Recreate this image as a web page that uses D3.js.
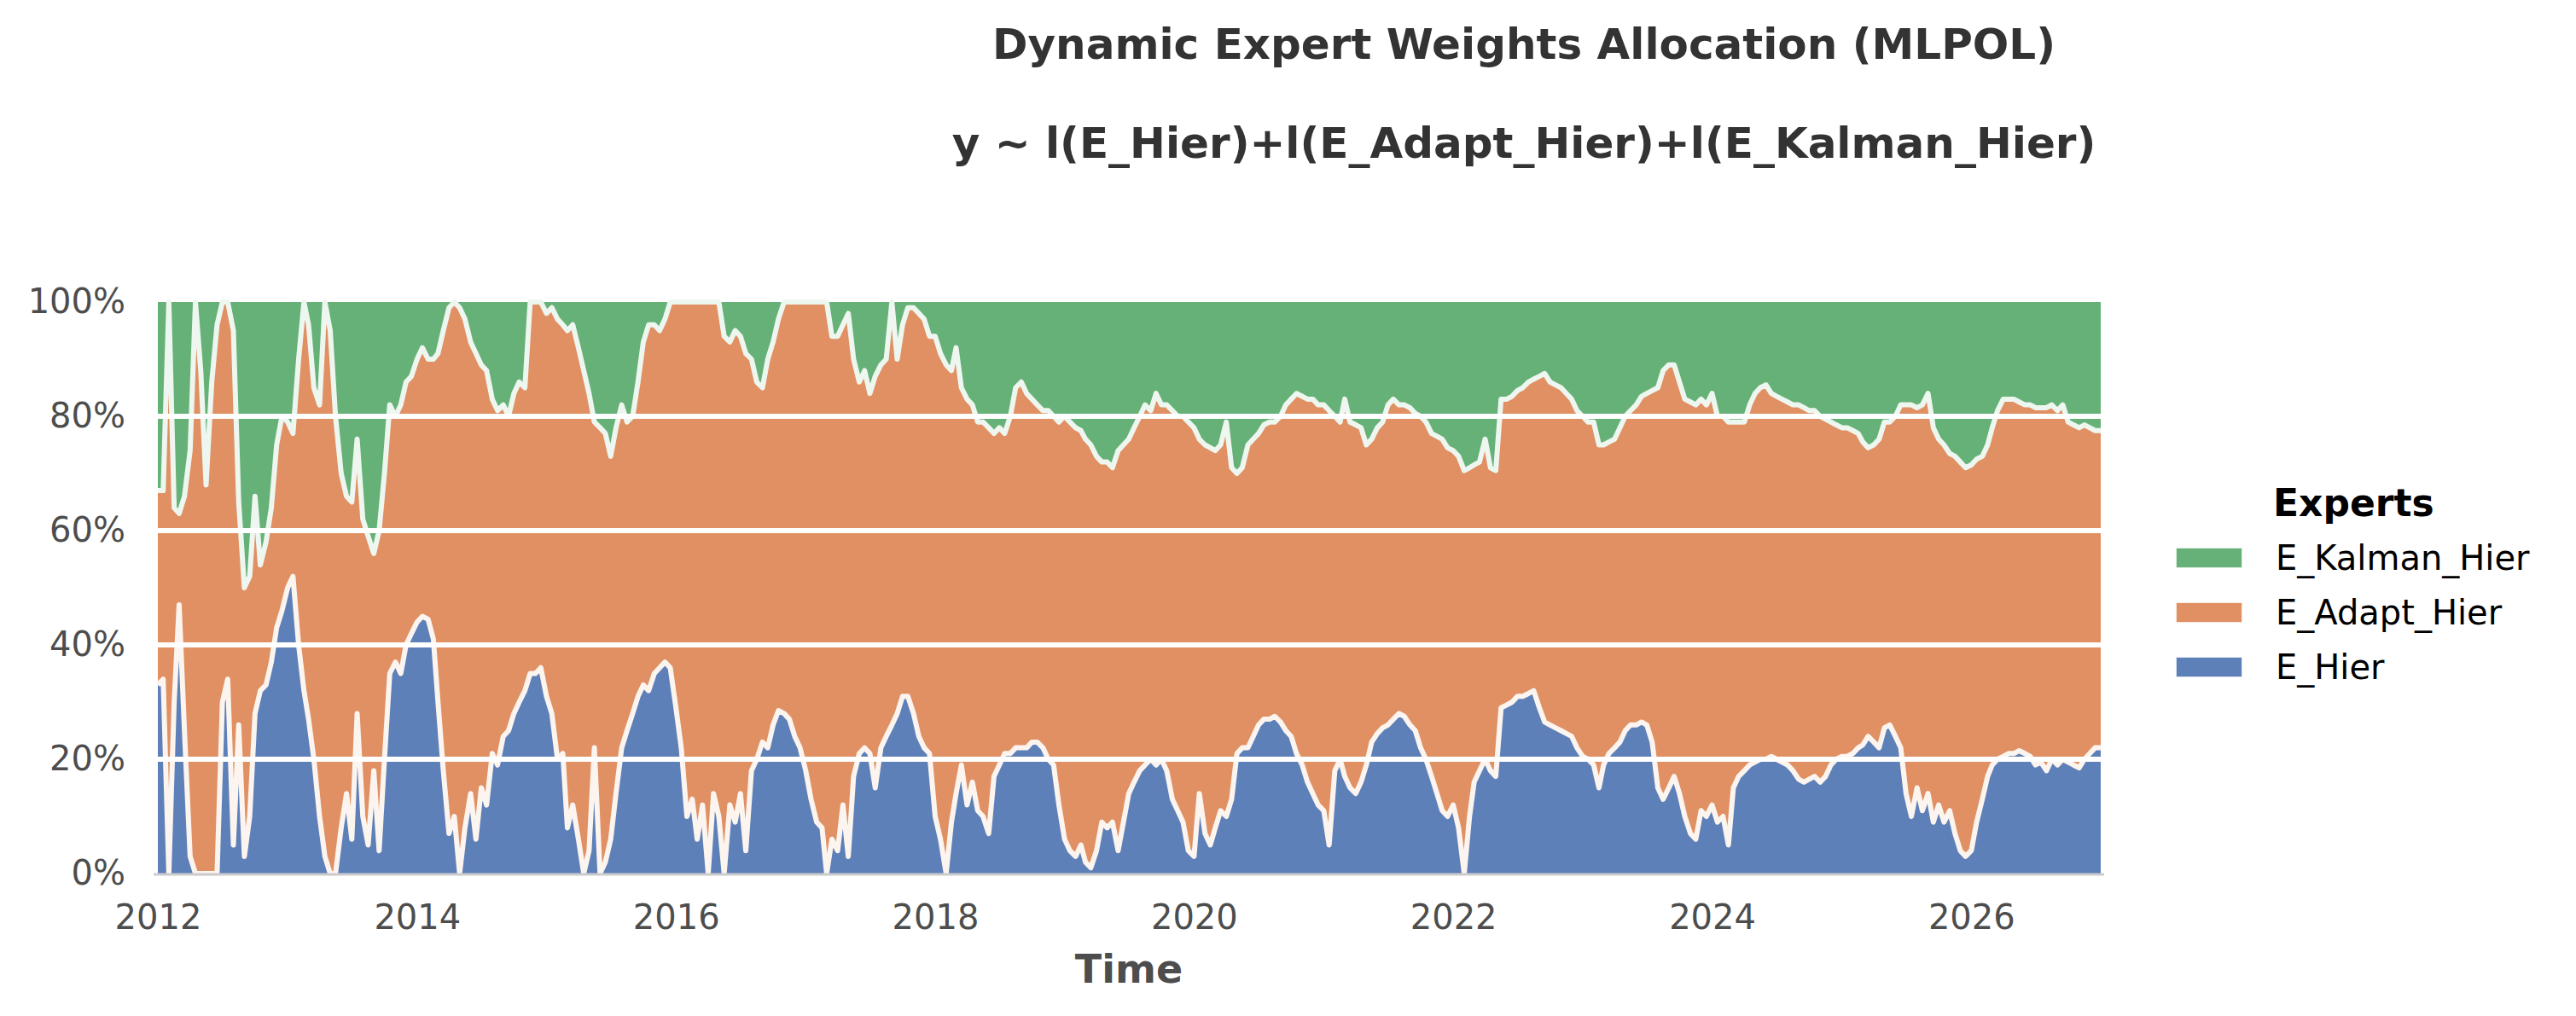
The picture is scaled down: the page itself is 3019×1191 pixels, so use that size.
<!DOCTYPE html>
<html>
<head>
<meta charset="utf-8">
<script src="https://cdn.jsdelivr.net/npm/d3@7"></script>
<style>
  body { margin: 0; background: #fff; }
  svg { display: block; font-family: "DejaVu Sans", sans-serif; }
</style>
</head>
<body>
<div id="chart"></div>
<script>
// expert weights (%), two readings per month (1st, 16th), Jan 2012 .. Jan 2027
const hierW = [
  33, 34, 0, 30, 47, 25, 3, 0, 0, 0, 0, 0, 30, 34, 5, 26, 3, 10, 28, 32, 33, 37, 43, 46, // 2012
  50, 52, 40, 32, 27, 20, 10, 3, 0, 0, 8, 14, 6, 28, 10, 5, 18, 4, 20, 35, 37, 35, 40, 42, // 2013
  44, 45, 44.5, 41, 30, 18, 7, 10, 0, 8, 14, 6, 15, 12, 21, 19, 24, 25, 28, 30, 32, 35, 35, 36, // 2014
  31, 28, 20, 21, 8, 12, 6, 0, 4, 22, 0, 2, 6, 14, 22, 25, 28, 31, 33, 32, 35, 36, 37, 36, // 2015
  29, 22, 10, 13, 6, 12, 0, 14, 10, 0, 12, 9, 14, 4, 18, 20, 23, 22, 26, 28.5, 28, 27, 24, 22, // 2016
  18, 13, 9, 8, 0, 6, 4, 12, 3, 17, 21, 22, 21, 15, 22, 24, 26, 28, 31, 31, 28, 24, 22, 21, // 2017
  10, 6, 0, 9, 14, 19, 12, 16, 11, 10, 7, 17, 19, 21, 21, 22, 22, 22, 23, 23, 22, 20, 19, 12, // 2018
  6, 4, 3, 5, 2, 1, 4, 9, 8, 9, 4, 9, 14, 16, 18, 19, 20, 19, 20, 18, 13, 11, 9, 4, // 2019
  3, 14, 7, 5, 8, 11, 10, 13, 21, 22, 22, 24, 26, 27, 27, 27.5, 26.5, 25, 24, 21, 19, 16, 14, 12, // 2020
  11, 5, 18, 20, 17, 15, 14, 16, 19, 23, 24.5, 25.5, 26, 27, 28, 27.5, 26, 25, 22, 20, 17, 14, 11, 10, // 2021
  12, 8, 0, 10, 16, 18, 20, 18, 17, 29, 29.5, 30, 31, 31, 31.5, 32, 29, 26.5, 26, 25.5, 25, 24.5, 24, 22, // 2022
  20.5, 20, 19, 15, 19, 21, 22, 23, 25, 26, 26, 26.5, 26, 23, 15, 13, 15, 17, 14, 10, 7, 6, 11, 10, // 2023
  12, 9, 10, 5, 15, 17, 18, 19, 19.5, 20, 20, 20.5, 20, 19.5, 19, 18, 16.5, 16, 16.5, 17, 16, 17, 19, 20, // 2024
  20.5, 20.5, 21, 22, 22.5, 24, 23, 22, 25.5, 26, 24, 22, 14, 10, 15, 11, 14, 9, 12, 9, 11, 7, 4, 3, // 2025
  4, 9, 13, 17, 19, 20, 20.5, 21, 21, 21.5, 21, 20.5, 19, 19.5, 18, 20, 19, 20, 19.5, 19, 18.5, 20, 21, 22, 22 // 2026 + end
];

const adaptW = [
  34, 33, 100, 34, 16, 41, 71, 100, 88, 68, 86, 96, 70, 66, 90, 39, 47, 42, 38, 22, 25, 27, 32, 34, // 2012
  29, 25, 50, 68, 69, 65, 72, 97, 95, 80, 62, 52, 59, 48, 52, 54, 38, 56, 50, 47, 43, 47, 46, 45, // 2013
  46, 47, 45.5, 49, 61, 77, 92, 90, 99, 89, 79, 85, 74, 76, 62, 62, 58, 55, 56, 56, 53, 65, 65, 64, // 2014
  67, 71, 77, 75, 87, 84, 86, 88, 80, 57, 78, 75, 67, 64, 60, 54, 52, 55, 60, 64, 61, 59, 60, 64, // 2015
  71, 78, 90, 87, 94, 88, 100, 86, 90, 94, 81, 86, 80, 87, 72, 66, 62, 68, 67, 68.5, 72, 73, 76, 78, // 2016
  82, 87, 91, 92, 100, 88, 90, 84, 95, 73, 65, 66, 63, 72, 67, 66, 74, 62, 65, 68, 71, 74, 75, 73, // 2017
  84, 85, 89, 79, 78, 66, 71, 66, 68, 69, 71, 60, 59, 56, 59, 63, 64, 62, 60, 59, 59, 61, 61, 67, // 2018
  74, 75, 75, 72.5, 74, 74, 69, 63, 64, 62, 70, 66, 62, 62, 62, 63, 61, 65, 62, 64, 68, 69, 71, 75, // 2019
  75, 62, 68, 69.5, 66, 64, 69, 58, 49, 49, 53, 52, 51, 51.5, 52, 51.5, 53.5, 57, 59, 63, 64.5, 67, 69, 70, // 2020
  71, 76, 62, 59, 66, 64, 64.5, 62, 56, 53, 53.5, 53.5, 56, 56, 54, 54.5, 55.5, 55.5, 58, 59, 60, 62.5, 65, 64.5, // 2021
  62, 65, 70.5, 61, 55.5, 54, 56, 53, 53.5, 54, 53.5, 53.5, 53.5, 54, 54.5, 54.5, 58, 61, 60, 60, 60, 59.5, 59, 59, // 2022
  59.5, 59, 60, 60, 56, 54.5, 54, 55, 55, 55, 56, 57, 58, 61.5, 70, 75, 74, 72, 72, 73, 75.5, 76, 72, 72, // 2023
  72, 71, 70, 74, 64, 62, 61, 63, 64.5, 65, 65.5, 63.5, 63.5, 63.5, 63.5, 64, 65.5, 65.5, 64.5, 64, 64, 62.5, 60, 58.5, // 2024
  57.5, 57.5, 56.5, 55, 53, 50.5, 52, 54, 53.5, 53, 56, 60, 68, 72, 66.5, 71, 70, 69, 64, 66, 62.5, 66, 68, 68, // 2025
  67.5, 63.5, 60, 58, 59, 61, 62.5, 62, 62, 61, 61, 61.5, 62.5, 62, 63.5, 62, 62, 62, 59.5, 59.5, 59.5, 58.5, 57, 55.5, 55.5 // 2026 + end
];

const kalmanW = [
  33, 33, 0, 36, 37, 34, 26, 0, 12, 32, 14, 4, 0, 0, 5, 35, 50, 48, 34, 46, 42, 36, 25, 20, // 2012
  21, 23, 10, 0, 4, 15, 18, 0, 5, 20, 30, 34, 35, 24, 38, 41, 44, 40, 30, 18, 20, 18, 14, 13, // 2013
  10, 8, 10, 10, 9, 5, 1, 0, 1, 3, 7, 9, 11, 12, 17, 19, 18, 20, 16, 14, 15, 0, 0, 0, // 2014
  2, 1, 3, 4, 5, 4, 8, 12, 16, 21, 22, 23, 27, 22, 18, 21, 20, 14, 7, 4, 4, 5, 3, 0, // 2015
  0, 0, 0, 0, 0, 0, 0, 0, 0, 6, 7, 5, 6, 9, 10, 14, 15, 10, 7, 3, 0, 0, 0, 0, // 2016
  0, 0, 0, 0, 0, 6, 6, 4, 2, 10, 14, 12, 16, 13, 11, 10, 0, 10, 4, 1, 1, 2, 3, 6, // 2017
  6, 9, 11, 12, 8, 15, 17, 18, 21, 21, 22, 23, 22, 23, 20, 15, 14, 16, 17, 18, 19, 19, 20, 21, // 2018
  20, 21, 22, 22.5, 24, 25, 27, 28, 28, 29, 26, 25, 24, 22, 20, 18, 19, 16, 18, 18, 19, 20, 20, 21, // 2019
  22, 24, 25, 25.5, 26, 25, 21, 29, 30, 29, 25, 24, 23, 21.5, 21, 21, 20, 18, 17, 16, 16.5, 17, 17, 18, // 2020
  18, 19, 20, 21, 17, 21, 21.5, 22, 25, 24, 22, 21, 18, 17, 18, 18, 18.5, 19.5, 20, 21, 23, 23.5, 24, 25.5, // 2021
  26, 27, 29.5, 29, 28.5, 28, 24, 29, 29.5, 17, 17, 16.5, 15.5, 15, 14, 13.5, 13, 12.5, 14, 14.5, 15, 16, 17, 19, // 2022
  20, 21, 21, 25, 25, 24.5, 24, 22, 20, 19, 18, 16.5, 16, 15.5, 15, 12, 11, 11, 14, 17, 17.5, 18, 17, 18, // 2023
  16, 20, 20, 21, 21, 21, 21, 18, 16, 15, 14.5, 16, 16.5, 17, 17.5, 18, 18, 18.5, 19, 19, 20, 20.5, 21, 21.5, // 2024
  22, 22, 22.5, 23, 24.5, 25.5, 25, 24, 21, 21, 20, 18, 18, 18, 18.5, 18, 16, 22, 24, 25, 26.5, 27, 28, 29, // 2025
  28.5, 27.5, 27, 25, 22, 19, 17, 17, 17, 17.5, 18, 18, 18.5, 18.5, 18.5, 18, 19, 18, 21, 21.5, 22, 21.5, 22, 22.5, 22.5 // 2026 + end
];

const experts = ["E_Hier", "E_Adapt_Hier", "E_Kalman_Hier"];
const legendOrder = ["E_Kalman_Hier", "E_Adapt_Hier", "E_Hier"];
const yTicks = [0, 0.2, 0.4, 0.6, 0.8, 1];
const gridTicks = [0.2, 0.4, 0.6, 0.8];

const colors = { E_Hier: "#5e80b8", E_Adapt_Hier: "#e09063", E_Kalman_Hier: "#66b177" };

// time index: 1st and 16th of every month
const n = Math.min(hierW.length, adaptW.length, kalmanW.length);
const dates = d3.range(n).map(i => new Date(2012, Math.floor(i / 2), i % 2 ? 16 : 1));

const rows = dates.map((date, i) => ({
  date,
  E_Hier: hierW[i],
  E_Adapt_Hier: adaptW[i],
  E_Kalman_Hier: kalmanW[i]
}));

const width = 3019;
const height = 1191;
const plot = { left: 185, right: 2462, top: 354, bottom: 1024 };

const svg = d3.select("#chart")
  .append("svg")
  .attr("width", width)
  .attr("height", height);

const xScale = d3.scaleTime()
  .domain([new Date(2012, 0, 1), new Date(2027, 0, 1)])
  .range([plot.left, plot.right]);

const yScale = d3.scaleLinear()
  .domain([0, 1])
  .range([plot.bottom, plot.top]);

const stacked = d3.stack()
  .keys(experts)
  .offset(d3.stackOffsetExpand)(rows);

const area = d3.area()
  .x(d => xScale(d.data.date))
  .y0(d => yScale(d[0]))
  .y1(d => yScale(d[1]));

// areas
svg.append("g")
  .selectAll("path")
  .data(stacked)
  .join("path")
  .attr("fill", d => colors[d.key])
  .attr("d", area);

// white outlines between the bands
const edge = d3.line()
  .x(d => xScale(d.data.date))
  .y(d => yScale(d[1]));

const edgeColors = ["#fcf4ef", "#eef6f0"];
svg.append("g")
  .selectAll("path")
  .data(stacked.slice(0, 2))
  .join("path")
  .attr("fill", "none")
  .attr("stroke", (d, i) => edgeColors[i])
  .attr("stroke-width", 6)
  .attr("stroke-linejoin", "round")
  .attr("d", edge);

// grid on top of the bands
svg.append("g")
  .selectAll("line")
  .data(gridTicks)
  .join("line")
  .attr("x1", plot.left)
  .attr("x2", plot.right)
  .attr("y1", d => yScale(d))
  .attr("y2", d => yScale(d))
  .attr("stroke", "#ffffff")
  .attr("stroke-width", 6);

// bottom axis line
svg.append("line")
  .attr("x1", plot.left - 5)
  .attr("x2", plot.right + 4)
  .attr("y1", plot.bottom + 1)
  .attr("y2", plot.bottom + 1)
  .attr("stroke", "#cccccc")
  .attr("stroke-width", 3);

// y axis
const yAxis = svg.append("g")
  .attr("transform", `translate(${plot.left}, 0)`)
  .call(d3.axisLeft(yScale).tickValues(yTicks).tickFormat(d3.format(".0%")).tickSize(0).tickPadding(38));
yAxis.select(".domain").remove();
yAxis.selectAll("text")
  .attr("fill", "#4d4d4d")
  .style("font-size", "40px")
  .style("font-family", "DejaVu Sans");

// x axis
const xAxis = svg.append("g")
  .attr("transform", `translate(0, ${plot.bottom})`)
  .call(d3.axisBottom(xScale).ticks(d3.timeYear.every(2)).tickFormat(d3.timeFormat("%Y")).tickSize(0).tickPadding(37));
xAxis.select(".domain").remove();
xAxis.selectAll("text")
  .attr("fill", "#4d4d4d")
  .style("font-size", "40px")
  .style("font-family", "DejaVu Sans");

svg.append("text")
  .text("Time")
  .attr("x", 1323)
  .attr("y", 1152)
  .attr("text-anchor", "middle")
  .attr("fill", "#4d4d4d")
  .attr("font-size", "46px")
  .attr("font-weight", "bold");

// titles
svg.append("text")
  .text("Dynamic Expert Weights Allocation (MLPOL)")
  .attr("x", 1786)
  .attr("y", 69)
  .attr("text-anchor", "middle")
  .attr("fill", "#333333")
  .attr("font-size", "50px")
  .attr("font-weight", "bold");

svg.append("text")
  .text("y ~ l(E_Hier)+l(E_Adapt_Hier)+l(E_Kalman_Hier)")
  .attr("x", 1786)
  .attr("y", 185)
  .attr("text-anchor", "middle")
  .attr("fill", "#333333")
  .attr("font-size", "50px")
  .attr("font-weight", "bold");

// legend
const legend = svg.append("g");
legend.append("text")
  .text("Experts")
  .attr("x", 2664)
  .attr("y", 605)
  .attr("fill", "#000")
  .attr("font-size", "44px")
  .attr("font-weight", "bold");

const item = legend.selectAll(".item")
  .data(legendOrder)
  .join("g")
  .attr("class", "item")
  .attr("transform", (d, i) => `translate(2550, ${642 + i * 64})`);

item.append("rect")
  .attr("width", 78)
  .attr("height", 24)
  .attr("fill", d => colors[d])
  .attr("stroke", "#ffffff")
  .attr("stroke-opacity", 0.8)
  .attr("stroke-width", 2);

item.append("text")
  .text(d => d)
  .attr("x", 117)
  .attr("y", 12)
  .attr("dy", "0.35em")
  .attr("fill", "#000")
  .attr("font-size", "40px");
</script>
</body>
</html>
